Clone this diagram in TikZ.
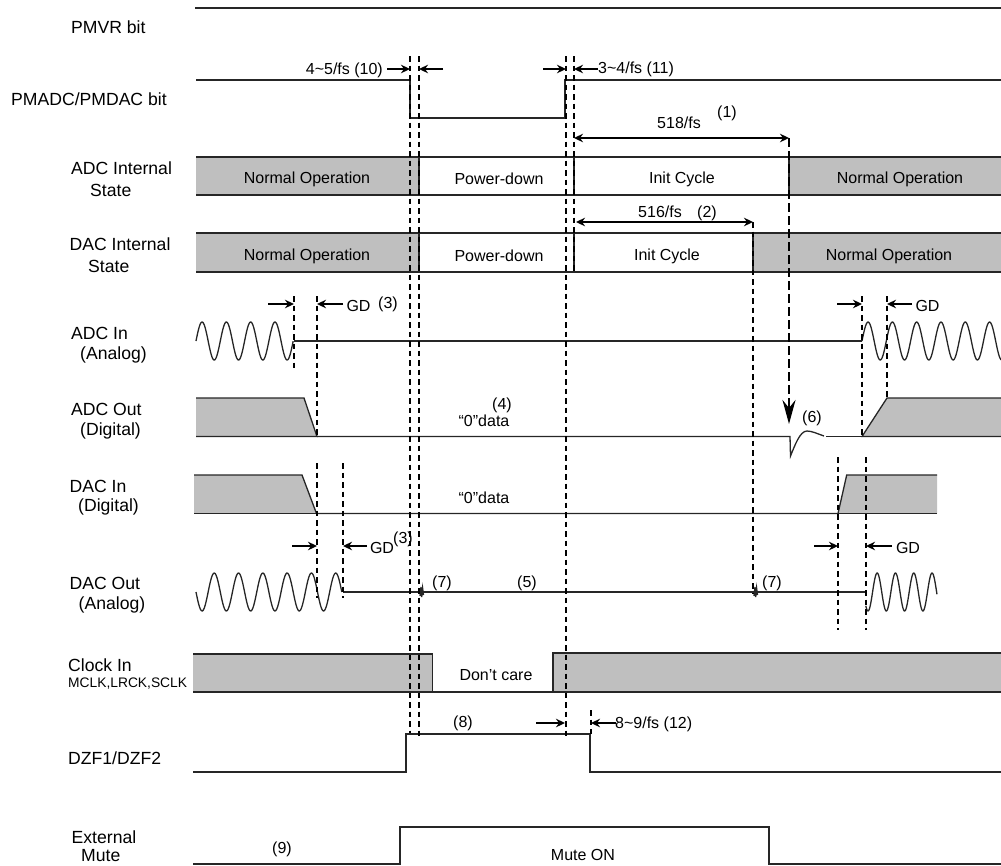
\documentclass[tikz,border=0pt]{standalone}
\usepackage{fontspec}
\setmainfont{Liberation Sans}
\usepackage{xcolor}
\usetikzlibrary{arrows.meta,positioning}
\definecolor{rowgray}{HTML}{BFBFBF}
\newcommand{\sigsine}[5]{% start x, centre y, period, amplitude, periods
  \draw[sig] plot[domain=0:#5, samples=160, smooth] ({#1+#3*\x},{#2-#4*sin(360*\x)});}
\begin{document}
\begin{tikzpicture}[
  x=1pt, y=-1pt,
  font=\fontsize{16}{18}\selectfont, >={Stealth[length=9pt,width=8.5pt]},
  sig/.style={line width=1.3pt, black!85},
  mark line/.style={line width=2pt, dash pattern=on 5.5pt off 4pt},
  heavy mark/.style={line width=2.8pt, dash pattern=on 9pt off 4pt},
  dim/.style={->, line width=2.2pt},
  lab/.style={anchor=west, inner sep=0pt, font=\fontsize{17.6}{20}\selectfont},
  txt/.style={inner sep=0pt}]
  \useasboundingbox (0,0) rectangle (1001,865);
  % shaded parts of the rows
  \foreach \t/\b/\c in {157/195/789, 233/272/753}{
    \fill[rowgray] (196,\t) rectangle (419,\b);
    \fill[rowgray] (\c,\t) rectangle (1001,\b);
    \draw[sig] (196,\t) -- (1001,\t) (196,\b) -- (1001,\b);
    \draw[sig] (419,\t) -- (419,\b) (574,\t) -- (574,\b) (\c,\t) -- (\c,\b);}
  \filldraw[sig, fill=rowgray] (196,398) -- (304,398) -- (317,436.5) -- (196,436.5);
  \filldraw[sig, fill=rowgray] (1001,398) -- (887,398) -- (862,436.5) -- (1001,436.5);
  \fill[rowgray] (194,475) -- (302,475) -- (316.5,513.5) -- (194,513.5);
  \fill[rowgray] (838,513.5) -- (846.7,475) -- (937,475) -- (937,513.5);
  \fill[rowgray] (193,654) rectangle (432.7,692);
  \fill[rowgray] (553,653) rectangle (1001,692);
  % plain signals
  \draw[sig] (195,8) -- (1001,8);
  \draw[sig] (196,80) -- (410,80) -- (410,118) -- (565,118) -- (565,80) -- (1001,80);
  \draw[sig] (294,341) -- (862,341);
  \draw[sig] (317,436.5) -- (790,436.5) -- (790.5,456)
     .. controls (795,445) and (800,431) .. (807,431)
     .. controls (812,431) and (818,434) .. (824,436);
  \draw[sig] (826,436.5) -- (862,436.5);
  \draw[sig] (194,475) -- (302,475) -- (316.5,513.5) -- (838,513.5) -- (846.7,475) -- (937,475);
  \draw[sig] (194,513.5) -- (316.5,513.5) (838,513.5) -- (937,513.5);
  \draw[sig] (343,592) -- (866,592);
  \draw[sig] (420,596) -- (421,587) -- (421.7,597) -- (422.6,588) -- (423.5,595);
  \draw[sig] (754,596) -- (755,587) -- (755.7,597) -- (756.6,588) -- (757.5,595);
  \draw[sig] (193,692) -- (1001,692);
  \draw[sig] (193,654) -- (432.7,654) -- (432.7,692);
  \draw[sig] (553,692) -- (553,653) -- (1001,653);
  \draw[sig] (193,772) -- (406,772) -- (406,734) -- (590,734) -- (590,772) -- (1001,772);
  \draw[sig] (193,864) -- (400,864) -- (400,827) -- (769,827) -- (769,864) -- (1001,864);
  % analog waves
  \sigsine{196}{341}{24.3}{19}{4}
  \sigsine{862}{341}{24.3}{19}{5.75}
  \sigsine{196}{592}{24.3}{-19}{6}
  \draw[sig] plot[domain=-0.12:3.77, samples=160, smooth] ({868+18.3*\x},{592+19*cos(360*\x)});
  % timing marks
  \foreach \x/\a/\b in {410/56/733, 419/56/738, 566/56/738, 574/56/273, 752.7/222/593,
      293.7/296/370, 317/296/436, 862/296/436, 886.7/296/398,
      316.7/463/598, 342.5/463/598, 838/457/630, 865.7/457/630, 590.7/710/734}{
    \draw[mark line] (\x,\a) -- (\x,\b);}
  \draw[heavy mark] (789,138) -- (789,400);
  \draw[-{Stealth[length=24pt,width=13pt,inset=8pt]}, line width=2.8pt] (789,398) -- (789,424);
  % dimension arrows
  \foreach \a/\b/\y in {387/410/69, 443/419/69, 543/566/69, 598/574/69,
      268/294/304, 343/317/304, 837/862/304, 912/887/304,
      292/317/546, 367/343/546, 814/838/546, 892/866/546,
      536/565/723, 616/591/723}{
    \draw[dim] (\a,\y) -- (\b,\y);}
  \draw[<->, line width=2.2pt] (574,138) -- (789,138);
  \draw[<->, line width=2.2pt] (576,222) -- (753,222);
  % signal names
  \foreach \n/\x/\y/\t in {pmvr/71/27/PMVR bit, pmadc/11/99/PMADC\slash PMDAC bit,
      adcst/71/168/ADC Internal, adcsb/90/190/State, dacst/69.5/244/DAC Internal,
      dacsb/88/266/State, adcin/71/333/ADC In, adcina/80/355/(Analog),
      adcout/71/409/ADC Out, adcoutd/80/431/(Digital), dacin/69.5/486/DAC In,
      dacind/78/507/(Digital), dacout/69.5/583/DAC Out, dacouta/78.5/605/(Analog),
      clk/68/665/Clock In, dzf/68/758/DZF1\slash DZF2, extm/71.5/837/External, extmb/81/856/Mute}{
    \node[lab] (\n) at (\x,\y) {\t};}
  \node[lab, font=\fontsize{13.8}{16}\selectfont] (clkb) at (68,684) {MCLK,LRCK,SCLK};
  % row texts
  \foreach \n/\x/\y/\t in {na/307/179/Normal Operation, pa/499/179/Power-down, ia/682/179/Init Cycle,
      nb/900/179/Normal Operation, nc/307/256/Normal Operation, pb/499/256/Power-down,
      ib/667/256/Init Cycle, nd/889/256/Normal Operation, dc/496/675/Don’t care, mu/583/855/Mute ON,
      za/484/421/“0”data, zb/484/498/“0”data, t518/679/123/518\slash fs, t516/660/212/516\slash fs,
      n1/727/113/(1), n2/707/213/(2), n3a/388/304/(3), n3b/403/539/(3), n4/502/405/(4), n5/527/583/(5),
      n6/812/418/(6), n7a/442/583/(7), n7b/772/583/(7), n8/463/723/(8), n9/282/849/(9),
      g1/358.5/306/GD, g2/927.5/306/GD, g3/382/548/GD, g4/908/548/GD}{
    \node[txt] (\n) at (\x,\y) {\t};}
  \node[txt, anchor=east] (fa) at (383,70) {4\char`~5/fs (10)};
  \node[txt, anchor=west] (fb) at (598,69) {3\char`~4/fs (11)};
  \node[txt, anchor=west] (fc) at (615,724) {8\char`~9/fs (12)};
\end{tikzpicture}
\end{document}
